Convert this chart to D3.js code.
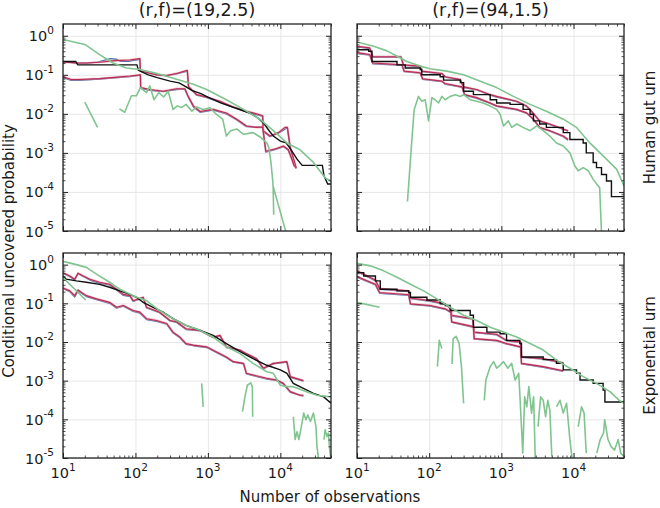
<!DOCTYPE html>
<html><head><meta charset="utf-8">
<script src="https://cdn.jsdelivr.net/npm/d3@7"></script>
<style>body{margin:0;background:#fff}text{font-family:"DejaVu Sans",sans-serif;fill:#1a1a1a}</style>
</head><body>
<svg id="chart" width="660" height="508"></svg>
<script>
// ---------- labels ----------
const colTitles = ["(r,f)=(19,2.5)", "(r,f)=(94,1.5)"];
const rowLabels = ["Human gut urn", "Exponential urn"];
const xTickExps = [1, 2, 3, 4];
const yTickExps = [0, -1, -2, -3, -4, -5];
const xLabel = "Number of observations";
const yLabel = "Conditional uncovered probability";

// ---------- top-left: (19,2.5), human gut ----------
const tlBlack = [[10,0.22],[15,0.22],[16,0.18],[105,0.18],[110,0.13],[150,0.1],[200,0.085],[300,0.069],[400,0.062],[500,0.049],[600,0.04],[800,0.033],[1000,0.027],[1500,0.019],[2000,0.0158],[3000,0.0122],[4000,0.01],[5000,0.0076],[6000,0.0055],[7000,0.0037],[8000,0.0027],[10000,0.002],[12000,0.0018],[14000,0.00122],[17000,0.00069],[20000,0.00048],[38000,0.00048],[40000,0.00026],[45000,0.00016],[50000,0.00016]];
const tlRedUp = [[10,0.215],[15.3,0.2],[21,0.2],[32,0.21],[52,0.23],[84,0.24],[115,0.26],[117,0.125],[195,0.1],[268,0.096],[370,0.108],[480,0.125],[520,0.13],[540,0.05],[700,0.031],[960,0.027],[1470,0.021],[2240,0.015],[3400,0.0117],[4900,0.0098],[5700,0.0089],[5800,0.0037],[7200,0.0027],[9400,0.0033],[11600,0.0045],[12500,0.0045],[13700,0.00137],[16500,0.00042]];
const tlRedLo = [[10,0.089],[13,0.076],[17,0.076],[32,0.08],[52,0.086],[84,0.093],[117,0.1],[118,0.047],[158,0.042],[242,0.038],[370,0.044],[480,0.044],[535,0.028],[630,0.016],[780,0.0115],[1180,0.013],[1800,0.0105],[2500,0.0073],[3400,0.0049],[4700,0.0045],[5700,0.0046],[6300,0.0011],[8900,0.0013],[11000,0.0015],[12900,0.0012],[15500,0.00047],[16500,0.00042]];
const tlBlueUp = [[10,0.22],[15,0.2],[21,0.2],[30,0.21],[45,0.26],[55,0.25],[62,0.22],[80,0.22],[115,0.25],[117,0.125],[195,0.1],[268,0.095],[370,0.105],[520,0.125],[540,0.05],[700,0.03],[960,0.026],[1470,0.02],[2240,0.0148],[3400,0.0112],[5700,0.0086],[5800,0.0036],[7200,0.0026],[9400,0.0032],[12500,0.0044],[13700,0.0013],[16500,0.0004]];
const tlBlueLo = [[10,0.085],[13,0.072],[17,0.072],[32,0.078],[84,0.09],[117,0.098],[118,0.045],[158,0.04],[242,0.037],[370,0.042],[480,0.043],[535,0.027],[630,0.015],[780,0.011],[1180,0.0125],[1800,0.01],[2500,0.007],[3400,0.0047],[5700,0.0045],[6300,0.00105],[8900,0.00125],[11000,0.00145],[12900,0.00115],[16500,0.0004]];
const tlGreenUp = [[10,0.8],[20,0.6],[32,0.33],[49,0.2],[75,0.15],[115,0.137],[195,0.11],[370,0.077],[630,0.057],[960,0.042],[1800,0.023],[3100,0.013],[5200,0.0073],[8000,0.0037],[12300,0.0018],[18700,0.0012],[28600,0.00057],[41500,0.00023],[50000,0.00019]];
const tlGreenLo = [[20,0.02],[30,0.0045],null,[60,0.0134],[71,0.011],[88,0.029],[103,0.029],[117,0.047],[142,0.035],[158,0.052],[180,0.023],[210,0.035],[245,0.027],[283,0.038],[330,0.013],[380,0.016],[430,0.0145],[500,0.0175],[600,0.0117],[700,0.015],[860,0.013],[1070,0.0143],[1300,0.0098],[1600,0.0073],[1800,0.0027],[2060,0.0037],[2500,0.0041],[3100,0.003],[4200,0.0033],[5200,0.0026],[6500,0.0018],[6900,0.0014],[7400,0.0006],[7900,0.00017],[7950,0.00013],[8100,0.000026],null,[7950,0.00014],[11700,0.0000107],[12500,0.000008]];

// ---------- top-right: (94,1.5), human gut ----------
const trBlack = [[10,0.44],[14.5,0.4],[16.1,0.22],[35.8,0.18],[46.6,0.15],[75,0.137],[79,0.1],[142,0.089],[158,0.073],[270,0.063],[300,0.038],[410,0.031],[700,0.023],[860,0.019],[1320,0.0175],[2000,0.013],[2500,0.0098],[2780,0.0066],[3400,0.0055],[4200,0.0045],[7200,0.0033],[8900,0.0022],[13600,0.0018],[15000,0.001],[18700,0.00057],[20800,0.00042],[24400,0.00028],[28600,0.00019],[33500,0.000076],[50000,0.000076]];
const trRedUp = [[10,0.54],[15,0.49],[16.6,0.29],[40.6,0.29],[44,0.18],[75,0.167],[79,0.124],[150,0.108],[167,0.089],[270,0.076],[300,0.049],[455,0.042],[700,0.031],[860,0.028],[1630,0.021],[2240,0.0158],[2620,0.0117],[3400,0.0066],[4700,0.0055],[7200,0.0041],[8400,0.0037]];
const trRedLo = [[10,0.37],[15,0.33],[16.6,0.2],[42,0.18],[45,0.124],[75,0.113],[81,0.079],[150,0.069],[165,0.06],[285,0.049],[310,0.031],[455,0.026],[700,0.019],[860,0.016],[1630,0.013],[2240,0.0106],[2780,0.0073],[3400,0.0045],[4700,0.0037],[7200,0.0027],[8400,0.0022]];
const trBlueUp = [[10,0.52],[15,0.47],[16.6,0.28],[40.6,0.28],[44,0.175],[75,0.162],[79,0.12],[150,0.105],[167,0.087],[270,0.074],[300,0.047],[455,0.041],[700,0.03],[860,0.027],[1630,0.0205],[2240,0.0154],[2620,0.0113],[3400,0.0064],[4700,0.0053],[7200,0.004],[8400,0.0036]];
const trBlueLo = [[10,0.35],[15,0.32],[16.6,0.19],[42,0.175],[45,0.12],[75,0.11],[81,0.077],[150,0.067],[165,0.058],[285,0.048],[310,0.03],[455,0.025],[700,0.0185],[860,0.0156],[1630,0.0126],[2240,0.0103],[2780,0.007],[3400,0.0044],[4700,0.0036],[7200,0.0026],[8400,0.0021]];
const trGreenUp = [[10,0.69],[17,0.54],[26,0.41],[36,0.3],[49,0.22],[75,0.167],[103,0.143],[175,0.124],[300,0.1],[500,0.069],[860,0.047],[1470,0.028],[2500,0.0175],[4200,0.0117],[7200,0.0073],[11000,0.0045],[16800,0.0018],[25700,0.00084],[39700,0.00038],[50000,0.000143]];
const trGreenLo = [[50,0.000057],[57.6,0.0022],[62,0.013],[71,0.028],[79,0.021],[88,0.023],[98,0.0066],[109,0.026],[121,0.023],[135,0.019],[150,0.028],[167,0.023],[195,0.028],[230,0.031],[270,0.028],[300,0.031],[370,0.023],[455,0.021],[560,0.019],[700,0.0158],[860,0.013],[960,0.0098],[1070,0.0049],[1250,0.0066],[1390,0.0045],[1630,0.0055],[2000,0.0045],[2500,0.0037],[3100,0.0049],[3800,0.0037],[4700,0.0027],[5800,0.0018],[7200,0.0015],[8900,0.001],[10400,0.00047],[11600,0.00035],[13600,0.00042],[16000,0.00035],[18700,0.00021],[22000,0.000143],[23000,0.00013],[24400,0.000009]];

// ---------- bottom-left: (19,2.5), exponential ----------
const blBlack = [[10,0.51],[11.1,0.42],[15.3,0.38],[21,0.35],[32,0.31],[44,0.26],[61,0.21],[84,0.17],[103,0.143],[128,0.106],[175,0.079],[240,0.059],[330,0.04],[500,0.027],[780,0.02],[1180,0.0148],[1800,0.0091],[2780,0.0056],[4200,0.0037],[6500,0.0025],[10000,0.0019],[12300,0.00155],[15100,0.00085],[20800,0.00063],[28600,0.00047],[39700,0.00038],[50000,0.00026]];
const blRedUp = [[10,0.62],[12.4,0.51],[14.5,0.42],[16.1,0.6],[23.4,0.42],[32,0.35],[44,0.31],[55,0.23],[68,0.17],[84,0.158],[93,0.117],[128,0.143],[142,0.079],[215,0.059],[300,0.036],[370,0.033],[500,0.022],[780,0.02],[1180,0.0134],[1470,0.0148],[1800,0.0075],[2780,0.0062],[3400,0.005],[4700,0.0037],[5800,0.0021],[8000,0.0028],[12300,0.0031],[13700,0.00127],[20800,0.001]];
const blRedLo = [[10,0.25],[12.4,0.21],[14.5,0.158],[16.1,0.22],[21,0.158],[29,0.13],[44,0.106],[55,0.079],[68,0.088],[93,0.065],[115,0.059],[142,0.04],[195,0.036],[270,0.03],[330,0.018],[410,0.0134],[500,0.0091],[630,0.0083],[960,0.0075],[1300,0.0056],[1800,0.0041],[2240,0.0031],[3100,0.0028],[3400,0.00155],[4200,0.0014],[6500,0.00115],[8900,0.00104],[11000,0.00085],[13700,0.00052],[18700,0.00042],[20800,0.00042]];
const blBlueUp = [[10,0.6],[12.4,0.49],[14.5,0.4],[16.1,0.58],[23.4,0.4],[32,0.33],[44,0.3],[55,0.22],[68,0.16],[84,0.15],[93,0.112],[128,0.138],[142,0.076],[215,0.057],[300,0.035],[370,0.032],[500,0.021],[780,0.0195],[1180,0.013],[1470,0.0142],[1800,0.0072],[2780,0.006],[3400,0.0048],[4700,0.0036],[5800,0.002],[8000,0.0027],[12300,0.003],[13700,0.00122],[20800,0.00097]];
const blBlueLo = [[10,0.24],[12.4,0.2],[14.5,0.145],[16.1,0.21],[21,0.15],[29,0.125],[44,0.1],[55,0.075],[68,0.084],[93,0.062],[115,0.056],[142,0.038],[195,0.034],[270,0.029],[330,0.017],[410,0.0128],[500,0.0087],[630,0.008],[960,0.0072],[1300,0.0054],[1800,0.0039],[2240,0.003],[3100,0.0027],[3400,0.0015],[4200,0.00135],[6500,0.0011],[8900,0.001],[11000,0.00082],[13700,0.0005],[20800,0.0004]];
const blGreenUp = [[10,1.22],[15.3,1.0],[21,0.85],[29,0.57],[44,0.35],[61,0.23],[93,0.158],[142,0.117],[215,0.065],[330,0.04],[500,0.027],[780,0.02],[1180,0.0134],[1800,0.0075],[2780,0.005],[4200,0.0028],[6500,0.0017],[8000,0.00155],[10000,0.00076],[12300,0.0007],[15100,0.0007],[23000,0.00052],[32000,0.00042],[50000,0.00038]];
const blGreenLo = [[10,0.46],[20.6,0.122],null,[820,0.00085],[860,0.00021],null,[3000,0.000158],[3240,0.00038],[3500,0.00076],[3900,0.00088],[4100,0.0007],[4150,0.000117],null,[15100,0.000117],[16000,0.00003],[17000,0.000048],[18000,0.00003],[19500,0.000065],[21000,0.000145],[22500,0.000097],[24000,0.00013],[26000,0.000088],[28600,0.000145],[31000,0.000065],[32000,0.00002],[34000,0.000008],null,[40000,0.00003],[41500,0.000054],[44000,0.000036],[46000,0.000044],[48000,0.000016],[50000,0.000009]];

// ---------- bottom-right: (94,1.5), exponential ----------
const brBlack = [[10,0.62],[12.4,0.51],[18,0.38],[21,0.23],[35.8,0.21],[52,0.19],[55,0.143],[93,0.122],[142,0.097],[167,0.088],[195,0.065],[370,0.049],[410,0.024],[630,0.018],[960,0.0164],[1180,0.011],[1800,0.0091],[1900,0.0041],[3800,0.0035],[5800,0.0028],[7200,0.0019],[11000,0.00155],[12300,0.00104],[18700,0.00085],[25700,0.00057],[27200,0.00028],[50000,0.00026]];
const brRedUp = [[10,0.69],[18,0.4],[20.6,0.24],[52,0.21],[55,0.137],[103,0.117],[167,0.097],[200,0.072],[205,0.049],[400,0.04],[420,0.018],[860,0.0158],[1180,0.011],[1850,0.01],[1900,0.0041],[3800,0.0037],[7200,0.0029]];
const brRedLo = [[10,0.49],[18,0.31],[20.6,0.19],[52,0.167],[55,0.097],[103,0.088],[167,0.072],[200,0.059],[205,0.033],[410,0.025],[420,0.0122],[860,0.011],[1180,0.0091],[1850,0.0075],[1900,0.0028],[3800,0.0023],[7200,0.0018]];
const brBlueUp = [[10,0.66],[18,0.38],[20.6,0.23],[52,0.2],[55,0.132],[103,0.112],[167,0.094],[200,0.07],[205,0.047],[400,0.039],[420,0.0175],[860,0.0153],[1180,0.0107],[1850,0.0097],[1900,0.004],[3800,0.0036],[7200,0.0028]];
const brBlueLo = [[10,0.47],[18,0.3],[20.6,0.18],[52,0.16],[55,0.094],[103,0.085],[167,0.07],[200,0.057],[205,0.032],[410,0.024],[420,0.0118],[860,0.0107],[1180,0.0088],[1850,0.0073],[1900,0.0027],[3800,0.0022],[7200,0.00175]];
const brGreenUp = [[10,1.08],[15.3,0.93],[23.4,0.69],[35.8,0.47],[55,0.31],[83.7,0.21],[128,0.13],[195,0.079],[300,0.049],[455,0.036],[700,0.024],[1070,0.018],[1630,0.0134],[2500,0.0091],[3800,0.0062],[5800,0.0034],[8900,0.0021],[13600,0.00127],[20800,0.00085],[32000,0.00052],[43000,0.00031],[50000,0.00026]];
const brGreenLo = [[10,0.106],[20.6,0.079],null,[130,0.0023],[138,0.011],[150,0.0068],null,[207,0.0027],[215,0.0122],[236,0.014],[260,0.0091],[280,0.0023],[300,0.00026],null,[580,0.00031],[610,0.00104],[700,0.0023],[780,0.0031],[860,0.0021],[960,0.0025],[1070,0.0031],[1230,0.0021],[1390,0.0028],[1550,0.00104],[1740,0.00155],[1800,0.00047],[1980,0.0000134],[2100,0.00038],[2250,0.00021],[2400,0.0007],[2620,0.000145],[2800,0.00038],[2950,0.000009],null,[3220,0.000065],[3500,0.00038],[3800,0.00031],[4100,0.000117],[4400,0.00031],[4700,0.00017],[5000,0.000011],null,[5800,0.00021],[6500,0.00031],[7200,0.000145],[8000,0.00026],[8900,0.00003],[9600,0.000009],null,[11600,0.000065],[12900,0.00021],[14000,0.000145],[15000,0.0000134],null,[21000,0.0000134],[23400,0.00003],[26000,0.000044],[27000,0.000097],[30000,0.00003],[33000,0.00002],[37000,0.000016],[41500,0.00003],[45000,0.0000134],[50000,0.000011]];

// ---------- layout ----------
const svg = d3.select("#chart");
const cols = [[63, 331], [357, 624]];
const rows = [[24, 231], [253, 458]];
const panels = [
  {c:0, r:0, stepBlack:false, black:tlBlack, redUp:tlRedUp, redLo:tlRedLo, blueUp:tlBlueUp, blueLo:tlBlueLo, greenUp:tlGreenUp, greenLo:tlGreenLo},
  {c:1, r:0, stepBlack:true, black:trBlack, redUp:trRedUp, redLo:trRedLo, blueUp:trBlueUp, blueLo:trBlueLo, greenUp:trGreenUp, greenLo:trGreenLo},
  {c:0, r:1, stepBlack:false, black:blBlack, redUp:blRedUp, redLo:blRedLo, blueUp:blBlueUp, blueLo:blBlueLo, greenUp:blGreenUp, greenLo:blGreenLo},
  {c:1, r:1, stepBlack:true, black:brBlack, redUp:brRedUp, redLo:brRedLo, blueUp:brBlueUp, blueLo:brBlueLo, greenUp:brGreenUp, greenLo:brGreenLo}
];

const xMajor = xTickExps.map(e => Math.pow(10, e));
const yMajor = yTickExps.map(e => Math.pow(10, e));
const xMinor = [], yMinor = [];
for (let k = 1; k <= 4; k++) for (let m = 2; m <= 9; m++) { const v = m * Math.pow(10, k); if (v <= 5e4) xMinor.push(v); }
for (let k = -5; k <= -1; k++) for (let m = 2; m <= 9; m++) yMinor.push(m * Math.pow(10, k));

const frameColor = "#222";
panels.forEach((p, i) => {
  const [x0, x1] = cols[p.c], [y0, y1] = rows[p.r];
  const x = d3.scaleLog().domain([10, 5e4]).range([x0, x1]);
  const y = d3.scaleLog().domain([1e-5, 2]).range([y1, y0]);
  const g = svg.append("g");
  // grid
  const gx = g.append("g").attr("transform", `translate(0,${y1})`)
    .call(d3.axisBottom(x).tickValues(xMajor).tickSize(-(y1 - y0)).tickFormat(""));
  const gy = g.append("g").attr("transform", `translate(${x0},0)`)
    .call(d3.axisLeft(y).tickValues(yMajor).tickSize(-(x1 - x0)).tickFormat(""));
  [gx, gy].forEach(a => { a.select(".domain").remove(); a.selectAll("line").attr("stroke", "#e4e4e4").attr("stroke-width", 0.9); });

  // clip
  const cid = "clip" + i;
  svg.append("clipPath").attr("id", cid).append("rect").attr("x", x0).attr("y", y0).attr("width", x1 - x0).attr("height", y1 - y0);
  const plot = g.append("g").attr("clip-path", `url(#${cid})`);
  const line = d3.line().defined(d => d !== null).x(d => x(d[0])).y(d => y(d[1]));
  const step = d3.line().defined(d => d !== null).x(d => x(d[0])).y(d => y(d[1])).curve(d3.curveStepAfter);

  [p.blueUp, p.blueLo].forEach(s => plot.append("path").attr("d", line(s)).attr("fill", "none").attr("stroke", "#4c72b0").attr("stroke-width", 1.3).attr("stroke-linejoin", "round"));
  [p.redUp, p.redLo].forEach(s => {
    plot.append("path").attr("d", line(s)).attr("fill", "none").attr("stroke", "#ec8f9c").attr("stroke-opacity", 0.6).attr("stroke-width", 2.3).attr("stroke-linejoin", "round");
    plot.append("path").attr("d", line(s)).attr("fill", "none").attr("stroke", "#b72c55").attr("stroke-width", 1.15).attr("stroke-linejoin", "round");
  });
  plot.append("path").attr("d", (p.stepBlack ? step : line)(p.black)).attr("fill", "none").attr("stroke", "#111").attr("stroke-width", 1.4);
  [p.greenUp, p.greenLo].forEach(s => plot.append("path").attr("d", line(s)).attr("fill", "none").attr("stroke", "#80c48f").attr("stroke-width", 1.6).attr("stroke-linejoin", "round"));

  // ticks (inward, all four sides)
  const tickAxes = [
    [d3.axisBottom(x), `translate(0,${y1})`, xMajor, xMinor],
    [d3.axisTop(x), `translate(0,${y0})`, xMajor, xMinor],
  ];
  tickAxes.forEach(([ax, tr, maj, min]) => {
    g.append("g").attr("transform", tr).call(ax.tickValues(maj).tickSize(-5).tickFormat(""))
      .call(s => { s.select(".domain").remove(); s.selectAll("line").attr("stroke", frameColor).attr("stroke-width", 1); });
    g.append("g").attr("transform", tr).call(ax.tickValues(min).tickSize(-2.5).tickFormat(""))
      .call(s => { s.select(".domain").remove(); s.selectAll("line").attr("stroke", frameColor).attr("stroke-width", 0.8); });
  });
  const yAxes = [[d3.axisLeft(y), `translate(${x0},0)`], [d3.axisRight(y), `translate(${x1},0)`]];
  yAxes.forEach(([ax, tr]) => {
    g.append("g").attr("transform", tr).call(ax.tickValues(yMajor).tickSize(-5).tickFormat(""))
      .call(s => { s.select(".domain").remove(); s.selectAll("line").attr("stroke", frameColor).attr("stroke-width", 1); });
    g.append("g").attr("transform", tr).call(ax.tickValues(yMinor).tickSize(-2.5).tickFormat(""))
      .call(s => { s.select(".domain").remove(); s.selectAll("line").attr("stroke", frameColor).attr("stroke-width", 0.8); });
  });

  // frame
  g.append("rect").attr("x", x0).attr("y", y0).attr("width", x1 - x0).attr("height", y1 - y0)
    .attr("fill", "none").attr("stroke", frameColor).attr("stroke-width", 1.3);

  // tick labels
  if (p.c === 0) {
    yTickExps.forEach(e => {
      const t = g.append("text").attr("x", x0 - 9).attr("y", y(Math.pow(10, e)) + 5.5).attr("text-anchor", "end").style("font-size", "14.5px");
      t.append("tspan").text("10");
      t.append("tspan").attr("dy", -7.5).style("font-size", "10.5px").text(String(e));
    });
  }
  if (p.r === 1) {
    xTickExps.forEach(e => {
      const t = g.append("text").attr("x", x(Math.pow(10, e))).attr("y", y1 + 20).attr("text-anchor", "middle").style("font-size", "14.5px");
      t.append("tspan").text("10");
      t.append("tspan").attr("dy", -7.5).style("font-size", "10.5px").text(String(e));
    });
  }
  if (p.r === 0) {
    svg.append("text").attr("x", (x0 + x1) / 2).attr("y", 16).attr("text-anchor", "middle").style("font-size", "17.5px").text(colTitles[p.c]);
  }
  if (p.c === 1) {
    svg.append("text").attr("transform", `translate(655,${(y0 + y1) / 2}) rotate(-90)`).attr("text-anchor", "middle").style("font-size", "15px").text(rowLabels[p.r]);
  }
});

svg.append("text").attr("x", 330).attr("y", 502).attr("text-anchor", "middle").style("font-size", "15px").text(xLabel);
svg.append("text").attr("transform", "translate(14,251) rotate(-90)").attr("text-anchor", "middle").style("font-size", "15px").text(yLabel);
</script>
</body></html>
